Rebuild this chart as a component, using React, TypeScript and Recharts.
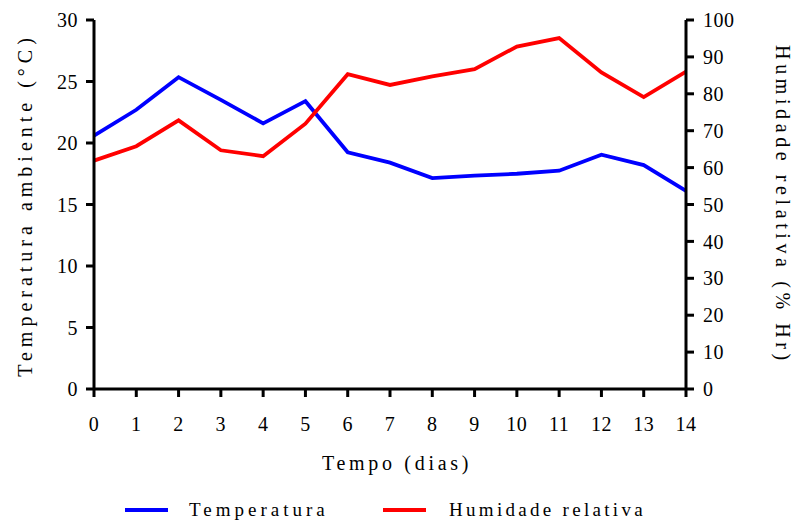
import { LineChart, Line, XAxis, YAxis, Legend } from "recharts"

// dias 0..14
const days = [0, 1, 2, 3, 4, 5, 6, 7, 8, 9, 10, 11, 12, 13, 14]
const temperatura = [20.6, 22.7, 25.35, 23.5, 21.6, 23.4, 19.25, 18.4, 17.15, 17.35, 17.5, 17.75, 19.05, 18.2, 16.1]
const humidade = [61.9, 65.8, 72.8, 64.7, 63.1, 71.9, 85.3, 82.4, 84.7, 86.7, 92.8, 95.1, 85.8, 79.1, 86.0]

const tempTicks = [0, 5, 10, 15, 20, 25, 30]
const humTicks = [0, 10, 20, 30, 40, 50, 60, 70, 80, 90, 100]

const data = days.map((d, i) => ({ day: d, temp: temperatura[i], hum: humidade[i] }))

const font = "Liberation Serif, Tinos, Times New Roman, DejaVu Serif, serif"
const tickStyle = { fill: "#000", fontSize: 20, fontFamily: font, letterSpacing: 0.5 }

const legendItems = [
  { label: "Temperatura", color: "#0000ff", lineX: 125, textX: 189, spacing: 4 },
  { label: "Humidade relativa", color: "#ff0000", lineX: 383, textX: 449, spacing: 3.3 },
]

function renderLegend() {
  return (
    <div style={{ position: "relative", width: 794, height: 26 }}>
      {legendItems.map((item) => (
        <div key={item.label}>
          <div
            style={{
              position: "absolute",
              left: item.lineX,
              top: 11,
              width: 43,
              height: 4,
              background: item.color,
            }}
          />
          <div
            style={{
              position: "absolute",
              left: item.textX,
              top: 0,
              fontFamily: font,
              fontSize: 19,
              letterSpacing: item.spacing,
              lineHeight: "26px",
              whiteSpace: "nowrap",
              color: "#000",
            }}
          >
            {item.label}
          </div>
        </div>
      ))}
    </div>
  )
}

const titleStyle = {
  position: "absolute" as const,
  fontFamily: font,
  fontSize: 20,
  color: "#000",
  whiteSpace: "nowrap" as const,
  lineHeight: "24px",
}

export default function App() {
  return (
    <div style={{ position: "absolute", left: 0, top: 0, width: 794, height: 523, background: "#fff" }}>
      <LineChart width={794} height={523} data={data} margin={{ top: 20, right: 48, bottom: 68, left: 34 }}>
        <XAxis
          dataKey="day"
          type="number"
          domain={[0, 14]}
          ticks={days}
          interval={0}
          height={40}
          tick={tickStyle}
          tickSize={8}
          tickMargin={20}
          axisLine={{ stroke: "#000", strokeWidth: 3 }}
          tickLine={{ stroke: "#000", strokeWidth: 3 }}
        />
        <YAxis
          yAxisId="left"
          domain={[0, 30]}
          ticks={tempTicks}
          interval={0}
          width={60}
          tick={tickStyle}
          tickSize={8}
          tickMargin={8}
          axisLine={{ stroke: "#000", strokeWidth: 3 }}
          tickLine={{ stroke: "#000", strokeWidth: 3 }}
        />
        <YAxis
          yAxisId="right"
          orientation="right"
          domain={[0, 100]}
          ticks={humTicks}
          interval={0}
          width={60}
          tick={tickStyle}
          tickSize={8}
          tickMargin={9}
          axisLine={{ stroke: "#000", strokeWidth: 3 }}
          tickLine={{ stroke: "#000", strokeWidth: 3 }}
        />
        <Line
          yAxisId="left"
          type="linear"
          dataKey="temp"
          name="Temperatura"
          stroke="#0000ff"
          strokeWidth={3.8}
          dot={false}
          isAnimationActive={false}
        />
        <Line
          yAxisId="right"
          type="linear"
          dataKey="hum"
          name="Humidade relativa"
          stroke="#ff0000"
          strokeWidth={3.8}
          dot={false}
          isAnimationActive={false}
        />
        <Legend content={renderLegend} wrapperStyle={{ position: "absolute", left: 0, top: 497, width: 794 }} />
      </LineChart>
      <div style={{ ...titleStyle, left: 0, top: 451, width: 794, textAlign: "center", letterSpacing: 3.7 }}>
        Tempo (dias)
      </div>
      <div
        style={{
          ...titleStyle,
          left: 25,
          top: 205,
          letterSpacing: 5,
          transform: "translate(-50%, -50%) rotate(-90deg)",
        }}
      >
        Temperatura ambiente (°C)
      </div>
      <div
        style={{
          ...titleStyle,
          left: 783,
          top: 205,
          letterSpacing: 4.6,
          transform: "translate(-50%, -50%) rotate(90deg)",
        }}
      >
        Humidade relativa (% Hr)
      </div>
    </div>
  )
}
